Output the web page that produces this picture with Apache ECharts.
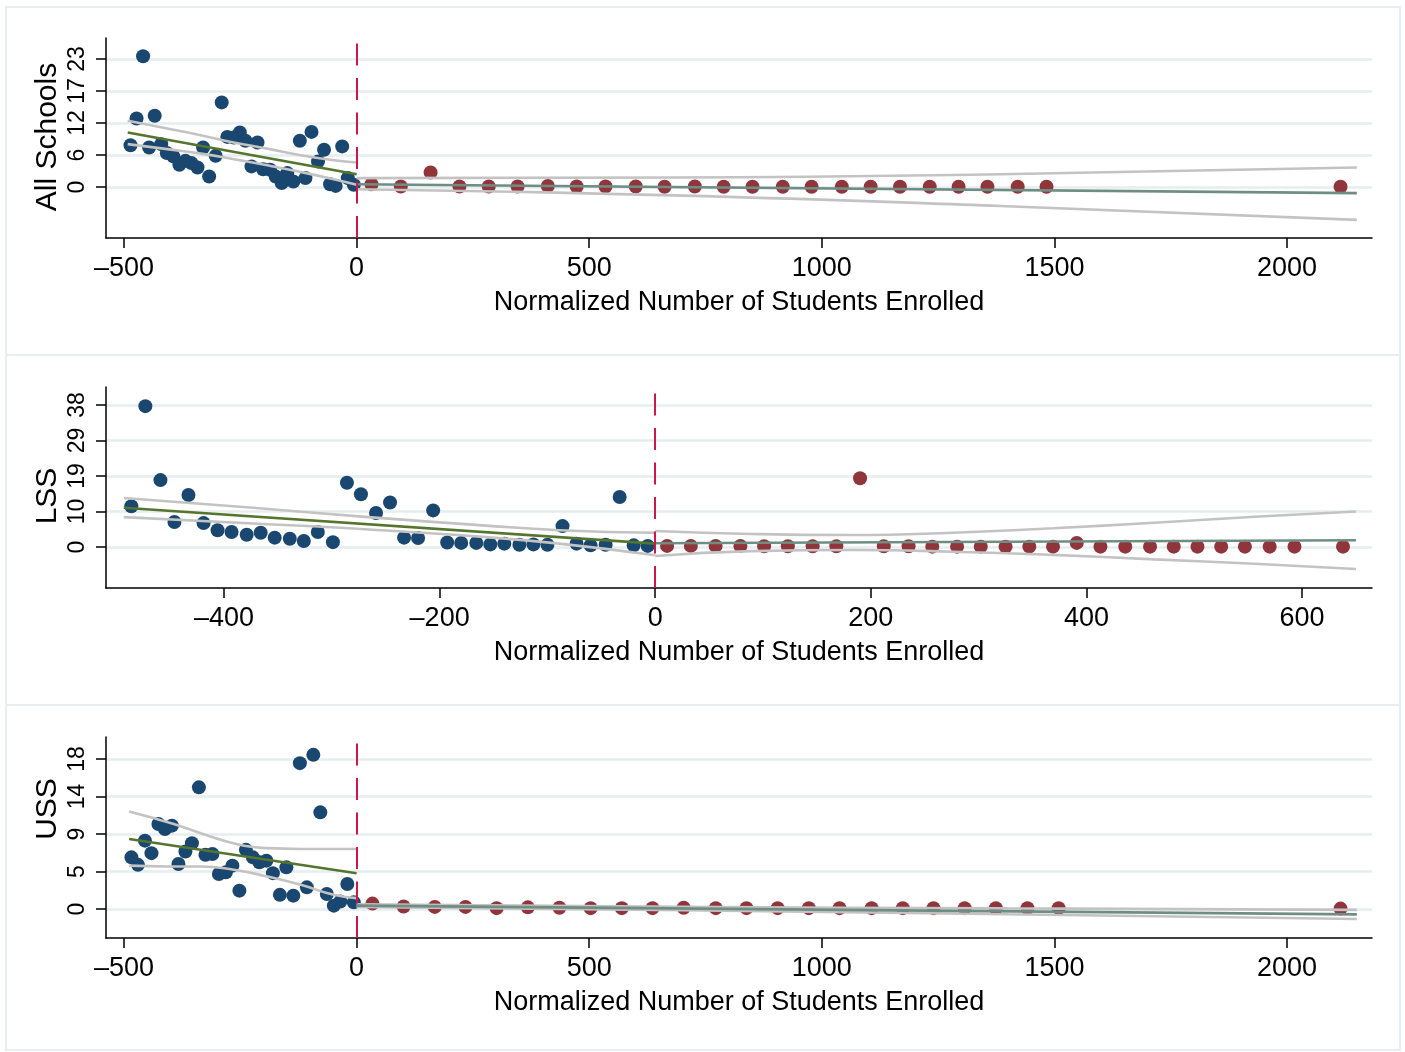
<!DOCTYPE html>
<html>
<head>
<meta charset="utf-8">
<script src="https://cdn.jsdelivr.net/npm/echarts@6/dist/echarts.min.js"></script>
<style>
  html, body { margin: 0; padding: 0; background: #ffffff; }
  #chart { width: 1405px; height: 1052px; }
</style>
</head>
<body>
<div id="chart"></div>
<script>
// ---------- All Schools ----------
const allBelowX = [-486, -473, -459, -446, -434, -420, -408, -394, -381, -368, -355, -342, -330, -317, -303, -290, -278, -264, -251, -239, -226, -213, -201, -186, -174, -161, -149, -136, -122, -110, -97, -83, -70, -57, -45, -31, -19, -6];
const allBelowY = [7.5, 12.3, 23.5, 7.1, 12.8, 7.7, 6.1, 5.5, 4.0, 4.7, 4.3, 3.5, 7.1, 1.9, 5.6, 15.2, 9.0, 8.9, 9.8, 8.3, 3.7, 8.0, 3.2, 3.1, 1.9, 0.7, 2.5, 1.0, 8.3, 1.6, 9.9, 4.6, 6.7, 0.5, 0.2, 7.3, 1.6, 0.4];
const allAboveX = [32, 95, 159, 221, 284, 346, 411, 473, 535, 600, 662, 727, 789, 851, 916, 978, 1043, 1105, 1168, 1232, 1294, 1356, 1421, 1483, 2115];
const allAboveY = [0.5, 0.1, 2.6, 0.1, 0.1, 0.1, 0.2, 0.1, 0.1, 0.1, 0.05, 0.1, 0.05, 0.05, 0.05, 0.05, 0.05, 0.05, 0.05, 0.05, 0.05, 0.05, 0.05, 0.05, 0.05];
const allFitBelow = [[-492, 9.8], [0, 2.3]];
const allCiBelowHi = [[-492, 11.9], [-407, 10.5], [-335, 9.3], [-264, 8.0], [-192, 6.9], [-120, 5.7], [-49, 4.8], [0, 4.4]];
const allCiBelowLo = [[-492, 7.7], [-407, 6.8], [-335, 6.0], [-264, 5.0], [-192, 3.9], [-120, 2.7], [-49, 1.4], [0, 0.4]];
const allFitAbove = [[0, 0.5], [2150, -1.1]];
const allCiAboveHi = [[0, 1.6], [680, 1.7], [1384, 2.3], [2150, 3.5]];
const allCiAboveLo = [[0, -0.4], [680, -1.5], [1384, -3.4], [2150, -5.9]];
const allXTicks = [-500, 0, 500, 1000, 1500, 2000];
const allYTicks = [0, 5.75, 11.5, 17.25, 23];

// ---------- LSS ----------
const lssBelowX = [-486, -473, -459, -446, -433, -419, -406, -393, -379, -366, -353, -339, -326, -313, -299, -286, -273, -259, -246, -233, -220, -206, -193, -180, -166, -153, -140, -126, -113, -100, -86, -73, -60, -46, -33, -20, -7];
const lssBelowY = [10.9, 37.7, 17.9, 6.7, 13.9, 6.4, 4.5, 4.0, 3.3, 3.8, 2.5, 2.2, 1.6, 4.0, 1.3, 17.2, 14.1, 9.1, 11.9, 2.5, 2.4, 9.8, 1.2, 1.1, 1.1, 0.7, 0.9, 0.6, 0.7, 0.6, 5.6, 0.9, 0.45, 0.6, 13.4, 0.45, 0.3];
const lssAboveX = [11, 33, 56, 79, 101, 123, 146, 168, 190, 212, 235, 257, 280, 302, 325, 347, 369, 391, 413, 436, 459, 481, 503, 525, 547, 570, 593, 638];
const lssAboveY = [0.3, 0.3, 0.3, 0.3, 0.2, 0.2, 0.2, 0.2, 18.4, 0.2, 0.2, 0.1, 0.1, 0.1, 0.1, 0.1, 0.1, 1.1, 0.1, 0.1, 0.1, 0.1, 0.1, 0.1, 0.1, 0.1, 0.1, 0.1];
const lssFitBelow = [[-493, 10.5], [0, 0.9]];
const lssCiBelowHi = [[-493, 13.1], [-373, 10.5], [-266, 8.0], [-160, 5.8], [-89, 4.5], [0, 3.8]];
const lssCiBelowLo = [[-493, 8.0], [-373, 6.3], [-266, 4.7], [-160, 2.7], [-89, 0.9], [0, -2.2]];
const lssFitAbove = [[0, 1.0], [650, 1.8]];
const lssCiAboveHi = [[0, 4.3], [89, 3.5], [183, 3.2], [276, 3.8], [369, 5.0], [463, 6.5], [556, 8.1], [650, 9.5]];
const lssCiAboveLo = [[0, -2.4], [89, -1.1], [183, -0.8], [276, -1.25], [369, -2.1], [463, -3.3], [556, -4.5], [650, -5.9]];
const lssXTicks = [-400, -200, 0, 200, 400, 600];
const lssYTicks = [0, 9.5, 19, 28.5, 38];

// ---------- USS ----------
const ussBelowX = [-484, -470, -455, -441, -426, -412, -397, -383, -368, -354, -339, -325, -310, -296, -281, -267, -252, -238, -223, -209, -194, -180, -165, -151, -136, -122, -107, -93, -78, -64, -49, -35, -20, -6];
const ussBelowY = [6.2, 5.3, 8.2, 6.7, 10.2, 9.6, 10.0, 5.4, 6.9, 7.9, 14.6, 6.5, 6.6, 4.2, 4.4, 5.2, 2.2, 7.1, 6.2, 5.6, 5.8, 4.3, 1.7, 5.0, 1.6, 17.5, 2.6, 18.5, 11.6, 1.8, 0.4, 0.9, 3.0, 0.8];
const ussAboveX = [34, 101, 168, 234, 301, 368, 436, 503, 570, 636, 703, 772, 838, 905, 972, 1038, 1107, 1174, 1240, 1307, 1374, 1442, 1509, 2115];
const ussAboveY = [0.65, 0.3, 0.25, 0.25, 0.1, 0.2, 0.15, 0.1, 0.1, 0.1, 0.15, 0.1, 0.1, 0.1, 0.1, 0.1, 0.1, 0.1, 0.1, 0.1, 0.1, 0.1, 0.1, 0.05];
const ussFitBelow = [[-489, 8.4], [0, 4.3]];
const ussCiBelowHi = [[-489, 11.7], [-443, 11.0], [-393, 10.2], [-335, 9.1], [-285, 8.2], [-242, 7.6], [-192, 7.3], [-120, 7.2], [-49, 7.2], [0, 7.2]];
const ussCiBelowLo = [[-489, 5.2], [-407, 5.1], [-335, 5.1], [-264, 4.7], [-192, 3.9], [-120, 2.9], [-49, 1.7], [0, 1.3]];
const ussFitAbove = [[0, 0.4], [2150, -0.64]];
const ussCiAboveHi = [[0, 0.55], [700, 0.26], [1400, 0.07], [2150, -0.1]];
const ussCiAboveLo = [[0, 0.25], [700, -0.14], [1400, -0.63], [2150, -1.2]];
const ussXTicks = [-500, 0, 500, 1000, 1500, 2000];
const ussYTicks = [0, 4.5, 9, 13.5, 18];

const cutoff = 0;
const xTitle = 'Normalized Number of Students Enrolled';
const panelTitles = ['All Schools', 'LSS', 'USS'];

// ---------- styling ----------
const FONT = '"Liberation Sans", Arial, Helvetica, sans-serif';
const C_BELOW = '#1a476f';
const C_ABOVE = '#90353b';
const C_FIT_BELOW = '#55752f';
const C_FIT_ABOVE = '#6e8e84';
const C_CI = '#c3c3c3';
const C_CUTOFF = '#cc1749';
const C_GRID = '#e6eef0';

const panels = [
  { top: 38, height: 200, titleY: 137, xMin: -538.7, xMax: 2182.6, yMin: -9.16, yMax: 26.77,
    xTicks: allXTicks, yTicks: allYTicks,
    below: [allBelowX, allBelowY], above: [allAboveX, allAboveY],
    fitB: allFitBelow, hiB: allCiBelowHi, loB: allCiBelowLo,
    fitA: allFitAbove, hiA: allCiAboveHi, loA: allCiAboveLo },
  { top: 387, height: 201, titleY: 496, xMin: -509.5, xMax: 664.9, yMin: -10.97, yMax: 42.82,
    xTicks: lssXTicks, yTicks: lssYTicks,
    below: [lssBelowX, lssBelowY], above: [lssAboveX, lssAboveY],
    fitB: lssFitBelow, hiB: lssCiBelowHi, loB: lssCiBelowLo,
    fitA: lssFitAbove, hiA: lssCiAboveHi, loA: lssCiAboveLo },
  { top: 737, height: 201, titleY: 809, xMin: -538.7, xMax: 2182.6, yMin: -3.48, yMax: 20.64,
    xTicks: ussXTicks, yTicks: ussYTicks,
    below: [ussBelowX, ussBelowY], above: [ussAboveX, ussAboveY],
    fitB: ussFitBelow, hiB: ussCiBelowHi, loB: ussCiBelowLo,
    fitA: ussFitAbove, hiA: ussCiAboveHi, loA: ussCiAboveLo }
];

const zip = (xs, ys) => xs.map((x, i) => [x, ys[i]]);
const dash = v => (v < 0 ? '\u2013' + Math.abs(v) : String(v));

const grid = [], xAxis = [], yAxis = [], series = [];

panels.forEach((p, i) => {
  grid.push({ left: 106, top: p.top, width: 1266, height: p.height, containLabel: false });

  xAxis.push({
    type: 'value', gridIndex: i, min: p.xMin, max: p.xMax,
    name: xTitle, nameLocation: 'middle', nameGap: 51,
    nameTextStyle: { fontFamily: FONT, fontSize: 27, color: '#000' },
    axisLine: { show: true, onZero: false, lineStyle: { color: '#000', width: 1.5 } },
    axisTick: { show: true, length: 10, customValues: p.xTicks, lineStyle: { color: '#000', width: 1.5 } },
    axisLabel: { customValues: p.xTicks, fontFamily: FONT, fontSize: 27, color: '#000', margin: 17, formatter: dash },
    splitLine: { show: false }
  });

  yAxis.push({
    type: 'value', gridIndex: i, min: p.yMin, max: p.yMax,
    axisLine: { show: true, onZero: false, lineStyle: { color: '#000', width: 1.5 } },
    axisTick: { show: true, length: 10, customValues: p.yTicks, lineStyle: { color: '#000', width: 1.5 } },
    axisLabel: { customValues: p.yTicks, rotate: 90, fontFamily: FONT, fontSize: 23, color: '#000', margin: 17,
                 formatter: v => String(Math.round(v)) },
    splitLine: { show: true, lineStyle: { color: C_GRID, width: 2.5 } }
  });

  const base = { xAxisIndex: i, yAxisIndex: i, animation: false, silent: true };

  series.push(Object.assign({}, base, {
    type: 'scatter', data: zip(p.below[0], p.below[1]), symbolSize: 14,
    itemStyle: { color: C_BELOW, opacity: 1 }, z: 2
  }));
  series.push(Object.assign({}, base, {
    type: 'scatter', data: zip(p.above[0], p.above[1]), symbolSize: 14,
    itemStyle: { color: C_ABOVE, opacity: 1 }, z: 2
  }));

  const line = (data, color, smooth) => Object.assign({}, base, {
    type: 'line', data, showSymbol: false, smooth, z: 3,
    lineStyle: { color, width: 2.6 }
  });
  series.push(line(p.hiB, C_CI, true));
  series.push(line(p.loB, C_CI, true));
  series.push(line(p.hiA, C_CI, true));
  series.push(line(p.loA, C_CI, true));
  series.push(line(p.fitB, C_FIT_BELOW, false));
  series.push(line(p.fitA, C_FIT_ABOVE, false));

  // threshold marker
  series.push(Object.assign({}, base, {
    type: 'line', data: [], z: 4,
    markLine: {
      silent: true, symbol: 'none', animation: false,
      label: { show: false },
      lineStyle: { color: C_CUTOFF, width: 2, type: [22, 12.5] },
      data: [{ xAxis: cutoff }]
    }
  }));
});

// panel frames
const frameTops = [7, 355, 705];
const frameBottoms = [355, 705, 1050];
const graphic = frameTops.map((t, i) => ({
  type: 'rect', silent: true, z: -1,
  shape: { x: 6, y: t, width: 1394, height: frameBottoms[i] - t },
  style: { fill: 'none', stroke: '#e7eef3', lineWidth: 2 }
}));

// vertical panel titles
panels.forEach((p, i) => {
  graphic.push({
    type: 'text', silent: true, x: 48, y: p.titleY, rotation: Math.PI / 2,
    style: {
      text: panelTitles[i], fill: '#000', fontSize: 30, fontFamily: FONT,
      align: 'center', verticalAlign: 'middle', textAlign: 'center', textVerticalAlign: 'middle'
    }
  });
});

const chart = echarts.init(document.getElementById('chart'), null, { renderer: 'canvas' });
chart.setOption({
  backgroundColor: '#ffffff',
  animation: false,
  textStyle: { fontFamily: FONT },
  grid, xAxis, yAxis, series, graphic
});
</script>
</body>
</html>
